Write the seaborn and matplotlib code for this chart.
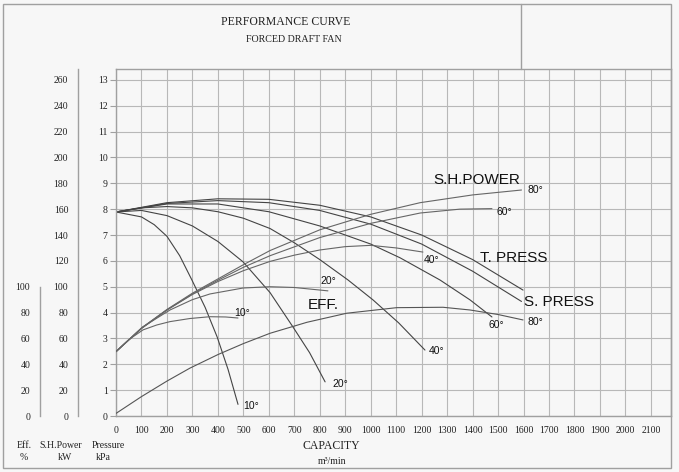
import matplotlib
matplotlib.use("Agg")
import matplotlib.pyplot as plt
import seaborn as sns
from matplotlib.lines import Line2D
from matplotlib.patches import Rectangle

# ---- data ----
# pressure curves: capacity (m3/min) vs pressure (kPa)
press_10_q = [0, 100, 150, 200, 250, 298, 350, 397, 440, 479]
press_10_p = [7.89, 7.7, 7.4, 6.95, 6.2, 5.26, 4.2, 3.06, 1.8, 0.45]
press_20_q = [0, 100, 200, 300, 400, 499, 605, 695, 760, 821]
press_20_p = [7.89, 7.95, 7.75, 7.35, 6.75, 5.96, 4.77, 3.44, 2.45, 1.32]
press_40_q = [0, 100, 200, 300, 400, 500, 605, 700, 800, 911, 1009, 1110, 1213]
press_40_p = [7.89, 8.05, 8.1, 8.05, 7.9, 7.65, 7.25, 6.7, 6.05, 5.26, 4.49, 3.6, 2.55]
press_60_q = [0, 200, 400, 600, 800, 1000, 1115, 1272, 1390, 1476]
press_60_p = [7.89, 8.2, 8.2, 7.9, 7.35, 6.65, 6.12, 5.26, 4.49, 3.83]
tpress_80_q = [0, 200, 400, 600, 800, 1000, 1200, 1400, 1598]
tpress_80_p = [7.89, 8.25, 8.4, 8.38, 8.15, 7.7, 7.0, 6.05, 4.87]
spress_80_q = [0, 200, 400, 600, 800, 1000, 1200, 1400, 1592]
spress_80_p = [7.89, 8.22, 8.33, 8.25, 7.95, 7.42, 6.65, 5.6, 4.43]

# shaft power curves: capacity vs kW
power_10_q = [0, 50, 106, 160, 212, 290, 369, 430, 479]
power_10_kw = [49.8, 59, 66.6, 70.4, 73, 75.4, 76.8, 76.6, 75.8]
power_20_q = [0, 106, 212, 300, 369, 499, 605, 700, 832]
power_20_kw = [49.8, 69, 82, 90, 94.4, 99, 100, 99.4, 96.8]
power_40_q = [0, 100, 200, 300, 400, 500, 605, 700, 800, 900, 1000, 1100, 1205]
power_40_kw = [49.8, 68, 82, 94, 104, 112.4, 119.6, 124.4, 128.4, 131, 132, 130, 126.8]
power_60_q = [0, 100, 200, 300, 400, 500, 605, 800, 1000, 1194, 1350, 1476]
power_60_kw = [49.8, 67.6, 82, 94.4, 105, 115, 124, 138, 149, 157, 160, 160.4]
power_80_q = [0, 100, 200, 300, 400, 500, 605, 800, 1000, 1194, 1400, 1592]
power_80_kw = [49.8, 68, 82.4, 95, 106, 117, 128, 144, 156, 165, 171, 174.8]

# efficiency curve: capacity vs %
eff_q = [0, 100, 200, 290, 400, 500, 605, 750, 906, 1102, 1284, 1390, 1500, 1598]
eff_pct = [2, 15, 27, 37, 47.5, 56, 64, 72.5, 79.5, 83.8, 84.1, 82, 78.5, 74.3]

x_ticks = list(range(0, 2200, 100))
press_ticks = list(range(0, 14))
power_ticks = list(range(0, 261, 20))
eff_ticks = list(range(0, 101, 20))

sns.set_style("white")
plt.rcParams['font.family'] = ['Liberation Serif', 'DejaVu Serif']

W, H = 679, 472
BG = '#f7f7f7'
EDGE = '#a0a0a0'
fig = plt.figure(figsize=(W / 100, H / 100), dpi=100, facecolor=BG)


def fx(px):
    return px / W


def fy(py):
    return 1 - py / H


Y_TOP = 13.42  # pressure value at the top edge of the grid
X_MAX = 2179

# main grid axes (pressure)
ax = fig.add_axes([fx(116), fy(416), fx(671) - fx(116), fy(69) - fy(416)])
ax.set_facecolor(BG)
ax.set_xlim(0, X_MAX)
ax.set_ylim(0, Y_TOP)
ax.set_xticks(x_ticks)
ax.set_yticks(press_ticks)
ax.grid(True, color='#b8b8b8', lw=0.8)
ax.tick_params(axis='x', length=0, pad=7, labelsize=7, colors='#222222')
ax.tick_params(axis='y', length=4, width=0.8, color=EDGE, pad=2, labelsize=7, labelcolor='#222222')
for s in ax.spines.values():
    s.set_color(EDGE)
    s.set_linewidth(1)

# twin axes in kW / % (same 20 units per grid step)
ax_kw = ax.twinx()
ax_kw.set_ylim(0, Y_TOP * 20)
ax_kw.axis('off')

press_curves = [(press_10_q, press_10_p), (press_20_q, press_20_p), (press_40_q, press_40_p),
                (press_60_q, press_60_p), (tpress_80_q, tpress_80_p), (spress_80_q, spress_80_p)]
for q, p in press_curves:
    sns.lineplot(x=q, y=p, ax=ax, color='#444444', lw=0.8, sort=False, estimator=None)

power_curves = [(power_10_q, power_10_kw), (power_20_q, power_20_kw), (power_40_q, power_40_kw),
                (power_60_q, power_60_kw), (power_80_q, power_80_kw)]
for q, kw in power_curves:
    sns.lineplot(x=q, y=kw, ax=ax_kw, color='#666666', lw=0.8, sort=False, estimator=None)

sns.lineplot(x=eff_q, y=eff_pct, ax=ax_kw, color='#555555', lw=0.8, sort=False, estimator=None)

# curve labels
lab = dict(fontsize=7.5, family=['Liberation Sans', 'DejaVu Sans'], va='center', ha='left', color='#111111')
ax.text(499, 0.39, '10°', **lab)
ax.text(848, 1.24, '20°', **lab)
ax.text(1229, 2.51, '40°', **lab)
ax.text(1464, 3.52, '60°', **lab)
ax.text(1614, 3.64, '80°', **lab)
ax.text(463, 3.98, '10°', **lab)
ax.text(801, 5.22, '20°', **lab)
ax.text(1209, 6.03, '40°', **lab)
ax.text(1492, 7.89, '60°', **lab)
ax.text(1614, 8.74, '80°', **lab)

big = dict(fontsize=11, family=['Liberation Sans', 'DejaVu Sans'], va='center', ha='left', color='#111111')
ax.text(1245, 9.13, 'S.H.POWER', **big)
ax.text(1429, 6.11, 'T. PRESS', **big)
ax.text(1602, 4.41, 'S. PRESS', **big)
ax.text(754, 4.29, 'EFF.', **big)

# extra left scales: shaft power and efficiency
for xpos, ticks, top in [(78, power_ticks, Y_TOP * 20), (40, eff_ticks, 100)]:
    sa = fig.add_axes([fx(xpos), fy(416), 0.0001, fy(69) - fy(416)])
    sa.patch.set_alpha(0)
    sa.set_ylim(0, Y_TOP * 20)
    sa.set_xticks([])
    sa.set_yticks(ticks)
    for k in ['top', 'right', 'bottom']:
        sa.spines[k].set_visible(False)
    sa.spines['left'].set_color(EDGE)
    sa.spines['left'].set_linewidth(1)
    sa.spines['left'].set_bounds(0, top)
    sa.tick_params(axis='y', length=5, width=0.8, color=EDGE, pad=2, labelsize=7, labelcolor='#222222')

# frame and title box
fig.add_artist(Rectangle((fx(3), fy(468)), fx(671) - fx(3), fy(4) - fy(468),
                         transform=fig.transFigure, fill=False, ec=EDGE, lw=1))
fig.add_artist(Line2D([fx(521), fx(521)], [fy(4), fy(69)], transform=fig.transFigure, color=EDGE, lw=1))
fig.text(fx(286), fy(22), 'PERFORMANCE CURVE', ha='center', va='center', fontsize=8.5, color='#222222')
fig.text(fx(294), fy(40), 'FORCED DRAFT FAN', ha='center', va='center', fontsize=7.2, color='#222222')

# axis captions
cap = dict(ha='center', va='center', fontsize=7, color='#222222')
fig.text(fx(24), fy(445), 'Eff.', **cap)
fig.text(fx(24), fy(458), '%', **cap)
fig.text(fx(61), fy(445), 'S.H.Power', **cap)
fig.text(fx(65), fy(458), 'kW', **cap)
fig.text(fx(108), fy(445), 'Pressure', **cap)
fig.text(fx(103), fy(458), 'kPa', **cap)
fig.text(fx(331), fy(446), 'CAPACITY', ha='center', va='center', fontsize=8.5, color='#222222')
fig.text(fx(332), fy(462), 'm³/min', **cap)

fig.savefig('out.png', dpi=100, facecolor=BG)
